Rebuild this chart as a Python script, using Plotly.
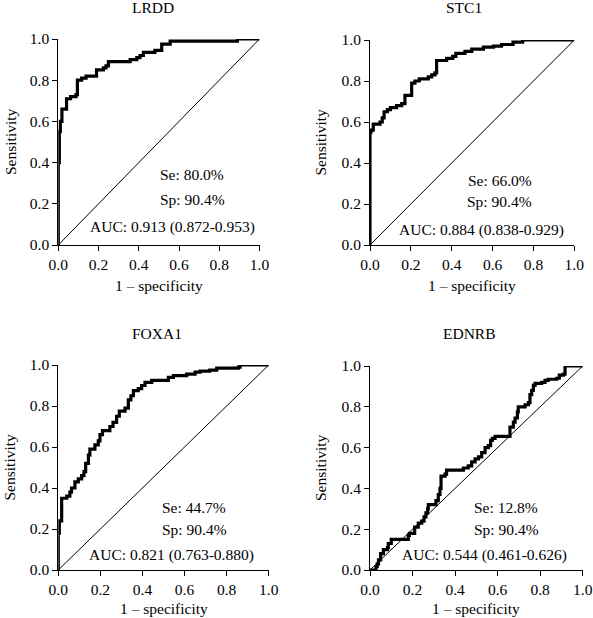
import plotly.graph_objects as go

W, H = 593, 618

titles = ["LRDD", "STC1", "FOXA1", "EDNRB"]

lrdd_fpr = [0, 0, 0.005, 0.010, 0.018, 0.041, 0.061, 0.088, 0.095, 0.116, 0.138, 0.190, 0.224, 0.237, 0.249,
            0.357, 0.390, 0.406, 0.423, 0.480, 0.514, 0.556, 0.890, 1.0]
lrdd_tpr = [0, 0.40, 0.55, 0.60, 0.66, 0.71, 0.72, 0.73, 0.80, 0.81, 0.82, 0.85, 0.86, 0.87, 0.89,
            0.90, 0.91, 0.92, 0.935, 0.945, 0.975, 0.99, 1.0, 1.0]

stc1_fpr = [0, 0, 0.005, 0.016, 0.049, 0.060, 0.069, 0.085, 0.100, 0.130, 0.155, 0.171, 0.204, 0.220, 0.241,
            0.285, 0.302, 0.318, 0.326, 0.375, 0.405, 0.420, 0.465, 0.498, 0.555, 0.604, 0.644, 0.700, 0.747, 1.0]
stc1_tpr = [0, 0.55, 0.56, 0.59, 0.60, 0.62, 0.65, 0.66, 0.67, 0.68, 0.69, 0.73, 0.79, 0.80, 0.81,
            0.82, 0.83, 0.84, 0.90, 0.91, 0.92, 0.935, 0.945, 0.955, 0.965, 0.97, 0.978, 0.99, 1.0, 1.0]

foxa1_fpr = [0, 0, 0.005, 0.016, 0.040, 0.055, 0.063, 0.079, 0.095, 0.111, 0.122, 0.130, 0.143, 0.150, 0.174,
             0.190, 0.198, 0.210, 0.245, 0.260, 0.277, 0.290, 0.317, 0.333, 0.345, 0.357, 0.380, 0.396, 0.412,
             0.444, 0.523, 0.547, 0.610, 0.650, 0.674, 0.720, 0.753, 0.856, 0.864, 1.0]
foxa1_tpr = [0, 0.18, 0.24, 0.35, 0.36, 0.38, 0.40, 0.43, 0.445, 0.46, 0.48, 0.52, 0.56, 0.59, 0.61,
             0.63, 0.66, 0.68, 0.70, 0.72, 0.75, 0.775, 0.79, 0.83, 0.85, 0.875, 0.885, 0.90, 0.915,
             0.925, 0.94, 0.948, 0.955, 0.965, 0.97, 0.975, 0.985, 0.99, 1.0, 1.0]

ednrb_fpr = [0, 0.024, 0.028, 0.034, 0.040, 0.050, 0.063, 0.082, 0.086, 0.100, 0.180, 0.185, 0.210, 0.227, 0.243,
             0.254, 0.263, 0.271, 0.274, 0.310, 0.321, 0.329, 0.334, 0.353, 0.360, 0.439, 0.462, 0.478, 0.494,
             0.510, 0.525, 0.541, 0.556, 0.567, 0.575, 0.588, 0.658, 0.674, 0.682, 0.693, 0.697, 0.729, 0.745,
             0.752, 0.760, 0.768, 0.776, 0.807, 0.823, 0.838, 0.878, 0.890, 0.909, 0.917, 1.0]
ednrb_tpr = [0, 0, 0.016, 0.03, 0.05, 0.08, 0.10, 0.11, 0.13, 0.15, 0.17, 0.18, 0.21, 0.23, 0.24,
             0.26, 0.28, 0.30, 0.32, 0.34, 0.37, 0.40, 0.46, 0.47, 0.49, 0.50, 0.51, 0.53, 0.545,
             0.555, 0.575, 0.60, 0.61, 0.635, 0.645, 0.655, 0.70, 0.725, 0.745, 0.775, 0.80, 0.81, 0.82,
             0.86, 0.88, 0.905, 0.915, 0.92, 0.93, 0.935, 0.94, 0.955, 0.96, 1.0, 1.0]

se_labels = ["Se: 80.0%", "Se: 66.0%", "Se: 44.7%", "Se: 12.8%"]
sp_labels = ["Sp: 90.4%", "Sp: 90.4%", "Sp: 90.4%", "Sp: 90.4%"]
auc_labels = ["AUC: 0.913 (0.872-0.953)", "AUC: 0.884 (0.838-0.929)",
              "AUC: 0.821 (0.763-0.880)", "AUC: 0.544 (0.461-0.626)"]

tick_vals = [0, 0.2, 0.4, 0.6, 0.8, 1.0]
tick_text = ["0.0", "0.2", "0.4", "0.6", "0.8", "1.0"]

curves = [(lrdd_fpr, lrdd_tpr), (stc1_fpr, stc1_tpr), (foxa1_fpr, foxa1_tpr), (ednrb_fpr, ednrb_tpr)]

# plot-area pixel boxes: (left, right, top, bottom)
boxes = [(58.3, 259.5, 39, 245), (370, 574.3, 40, 245), (58.3, 268.7, 365, 570), (370, 582.7, 366, 570)]
title_pos = [(153, 8), (464, 8), (157, 333), (469, 333)]
ylab_x = [10, 320, 9, 320]
xlab_y = [285, 285, 608, 608]
se_pos = [(0.665, 0.34, 0.223, 0.568, 0.087), (0.636, 0.317, 0.21, 0.548, 0.073),
          (0.645, 0.307, 0.20, 0.536, 0.073), (0.64, 0.307, 0.20, 0.54, 0.073)]

FONT = "Liberation Serif"
FS = 15.5

fig = go.Figure()
annotations = []
for i, (fx, ty) in enumerate(curves):
    xa = "x" if i == 0 else f"x{i+1}"
    ya = "y" if i == 0 else f"y{i+1}"
    fig.add_trace(go.Scatter(x=[0, 1], y=[0, 1], mode="lines", line=dict(color="black", width=1),
                             xaxis=xa, yaxis=ya, showlegend=False, hoverinfo="skip"))
    fig.add_trace(go.Scatter(x=fx, y=ty, mode="lines", line=dict(color="black", width=3.2, shape="hv"),
                             xaxis=xa, yaxis=ya, showlegend=False))
    l, r, t, b = boxes[i]
    axis_common = dict(range=[0, 1], tickvals=tick_vals, ticktext=tick_text, showgrid=False, zeroline=False,
                       showline=True, linecolor="black", linewidth=1, ticks="outside", ticklen=5, tickwidth=1,
                       tickcolor="black", tickfont=dict(family=FONT, size=FS, color="black"), fixedrange=True,
                       automargin=False)
    fig.update_layout(**{
        ("xaxis" if i == 0 else f"xaxis{i+1}"): dict(domain=[l / W, r / W], anchor=ya, **axis_common),
        ("yaxis" if i == 0 else f"yaxis{i+1}"): dict(domain=[1 - b / H, 1 - t / H], anchor=xa, **axis_common),
    })
    tx, tyy = title_pos[i]
    annotations.append(dict(text=titles[i], x=tx / W, y=1 - tyy / H, xref="paper", yref="paper",
                            showarrow=False, xanchor="center", yanchor="middle",
                            font=dict(family=FONT, size=FS, color="black")))
    annotations.append(dict(text="Sensitivity", x=ylab_x[i] / W, y=1 - ((t + b) / 2) / H, xref="paper",
                            yref="paper", showarrow=False, textangle=-90, xanchor="center", yanchor="middle",
                            font=dict(family=FONT, size=FS, color="black")))
    annotations.append(dict(text="1 – specificity", x=((l + r) / 2) / W, y=1 - xlab_y[i] / H, xref="paper",
                            yref="paper", showarrow=False, xanchor="center", yanchor="middle",
                            font=dict(family=FONT, size=FS, color="black")))
    sx, sey, spy, ax_, ay = se_pos[i]
    for txt, xx, yy in [(se_labels[i], sx, sey), (sp_labels[i], sx, spy), (auc_labels[i], ax_, ay)]:
        annotations.append(dict(text=txt, x=xx, y=yy, xref=xa, yref=ya, showarrow=False,
                                xanchor="center", yanchor="middle",
                                font=dict(family=FONT, size=FS, color="black")))

fig.update_layout(width=W, height=H, margin=dict(l=0, r=0, t=0, b=0, autoexpand=False), paper_bgcolor="white",
                  plot_bgcolor="white", annotations=annotations, showlegend=False)

fig.write_html("out.html", config={"displayModeBar": False},
               post_script="document.body.style.margin='0px';document.body.style.overflow='hidden';")
